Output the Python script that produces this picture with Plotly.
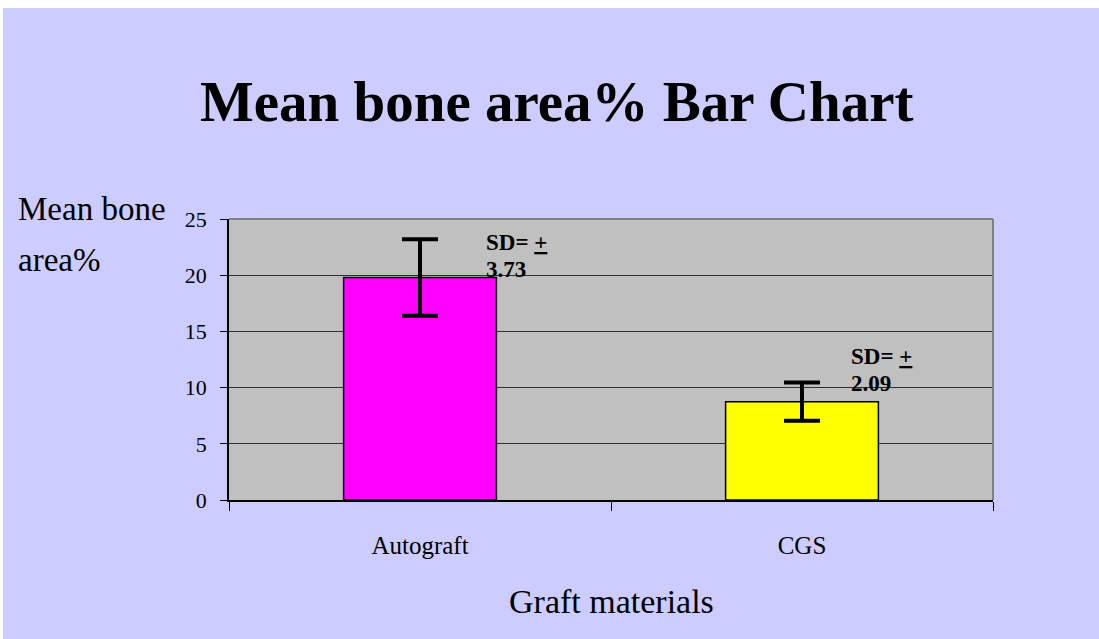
import plotly.graph_objects as go

# ---- data ----
categories = ["Autograft", "CGS"]
mean_bone_area = [19.8, 8.75]
error_halfwidth = [3.4, 1.7]
sd_labels = ["3.73", "2.09"]
bar_colors = ["#FF00FF", "#FFFF00"]
y_ticks = [0, 5, 10, 15, 20, 25]

W, H = 1099, 639
L, R, T, B = 229, 106, 219, 139
PW = W - L - R
PH = H - T - B


def px(x):
    return (x - L) / PW


def py(y):
    return (H - B - y) / PH


SERIF = "Liberation Serif, Times New Roman, serif"
LAV = "#CCCCFF"

fig = go.Figure()
fig.add_trace(go.Bar(
    x=categories,
    y=mean_bone_area,
    marker=dict(color=bar_colors, line=dict(color="black", width=1.5)),
    error_y=dict(type="data", array=error_halfwidth, visible=True,
                 color="black", thickness=4, width=18),
    width=0.4,
    showlegend=False,
    hoverinfo="x+y",
))


def ann(text, x, y, size, xanchor="left"):
    return dict(text=text, x=x, y=y, xref="paper", yref="paper",
                xanchor=xanchor, yanchor="middle", showarrow=False,
                font=dict(family=SERIF, size=size, color="black"))


annotations = [
    ann("<b>Mean bone area% Bar Chart</b>", px(557), py(101), 57, "center"),
    ann("Mean bone", px(16), py(209), 33),
    ann("area%", px(16), py(260), 33),
    ann("Graft materials", 0.5, py(601), 34, "center"),
]

sd_pos = [(484, 242, 269), (849, 356, 383)]
for lab, (xl, y1, y2) in zip(sd_labels, sd_pos):
    annotations.append(ann("<b>SD= <u>+</u></b>", px(xl), py(y1), 23))
    annotations.append(ann("<b>" + lab + "</b>", px(xl), py(y2), 23))

shapes = [
    # white margins at top and left of the page
    dict(type="rect", xref="paper", yref="paper", x0=px(0), x1=px(W), y0=py(8), y1=py(0),
         fillcolor="white", line=dict(width=0), layer="above"),
    dict(type="rect", xref="paper", yref="paper", x0=px(0), x1=px(3), y0=py(H), y1=py(0),
         fillcolor="white", line=dict(width=0), layer="above"),
    # gray plot-area border top and right
    dict(type="line", xref="paper", yref="paper", x0=0, x1=1, y0=1, y1=1,
         line=dict(color="#808080", width=2), layer="above"),
    dict(type="line", xref="paper", yref="paper", x0=1, x1=1, y0=0, y1=1,
         line=dict(color="#808080", width=2), layer="above"),
]

fig.update_layout(
    width=W, height=H,
    margin=dict(l=L, r=R, t=T, b=B, pad=0),
    paper_bgcolor=LAV,
    plot_bgcolor="#C0C0C0",
    bargap=0.6,
    font=dict(family=SERIF, color="black"),
    annotations=annotations,
    shapes=shapes,
    xaxis=dict(
        type="category", range=[-0.5, 1.5],
        showline=True, linecolor="black", linewidth=1.5,
        ticks="outside", tickson="boundaries", ticklen=9, tickcolor="black", tickwidth=1,
        tickfont=dict(family=SERIF, size=25, color="black"),
        ticklabelstandoff=22,
        showgrid=False,
    ),
    yaxis=dict(
        range=[0, 25], tickvals=y_ticks,
        showline=True, linecolor="black", linewidth=1.5,
        ticks="outside", ticklen=7, tickcolor="black", tickwidth=1,
        tickfont=dict(family=SERIF, size=22, color="black"),
        ticklabelstandoff=9,
        showgrid=True, gridcolor="#303030", gridwidth=1,
        zeroline=False,
    ),
)

fig.write_html(
    "out.html",
    config={"displayModeBar": False},
    post_script="document.body.style.margin='0';document.body.style.overflow='hidden';",
)
